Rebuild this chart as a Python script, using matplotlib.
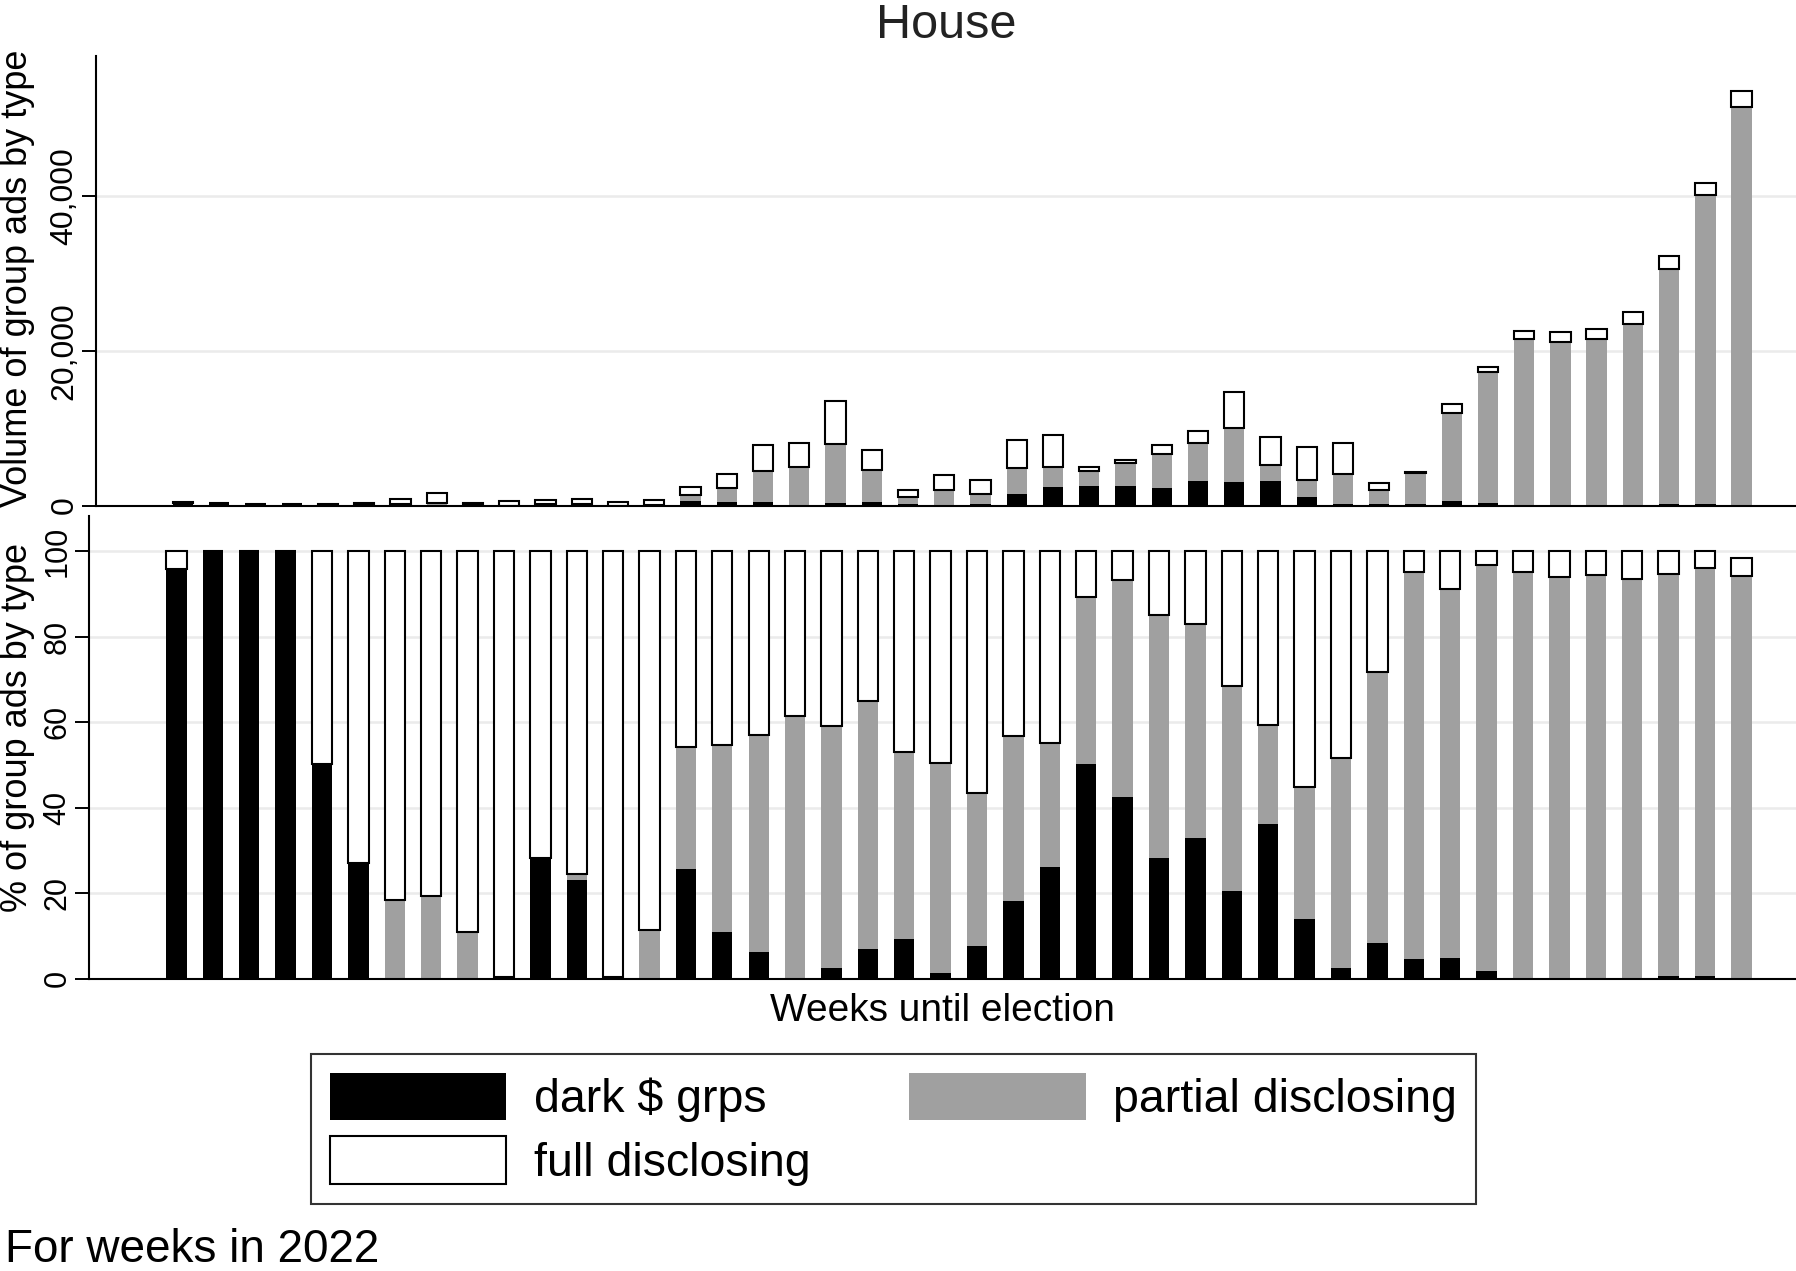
import matplotlib
matplotlib.use("Agg")
import matplotlib.pyplot as plt
from matplotlib.patches import Patch
import numpy as np

plt.rcParams["font.family"] = ["Liberation Sans", "DejaVu Sans"]

# weeks before the election, left to right (44 weekly bars)
weeks = np.arange(44)

# top panel: number of group ads per week by sponsor type
vol_dark = [385, 350, 200, 150, 100, 80, 0, 0, 0, 0,
            205, 200, 0, 0, 615, 450, 490, 20, 320, 490,
            190, 50, 255, 1550, 2390, 2520, 2490, 2200, 3190, 3020,
            3220, 1050, 190, 240, 205, 645, 300, 0, 0, 0,
            0, 190, 250, 100]
vol_partial = [0, 0, 0, 0, 0, 0, 165, 320, 30, 0,
               0, 12, 0, 87, 685, 1870, 4000, 4970, 7650, 4130,
               880, 1920, 1175, 3290, 2650, 1970, 2950, 4450, 4850, 7040,
               2050, 2310, 3950, 1830, 3965, 11365, 17030, 21500, 21100, 21550,
               23460, 30360, 39920, 51500]
vol_full = [15, 0, 0, 0, 100, 220, 735, 1350, 230, 560,
            525, 648, 430, 683, 1100, 1800, 3280, 3120, 5510, 2500,
            950, 1930, 1870, 3660, 4100, 530, 400, 1160, 1660, 4620,
            3610, 4150, 3890, 810, 210, 1170, 570, 1080, 1350, 1280,
            1600, 1680, 1590, 2090]

# bottom panel: share of group ads per week by sponsor type (%)
pct_dark = [96, 100, 100, 100, 50, 27, 0, 0, 0, 0.3,
            28, 23, 0.3, 0, 25.6, 10.9, 6.3, 0.2, 2.4, 6.9,
            9.3, 1.2, 7.7, 18.2, 26.2, 50.2, 42.6, 28.2, 32.9, 20.6,
            36.3, 14.0, 2.4, 8.3, 4.7, 4.9, 1.7, 0, 0, 0,
            0, 0.6, 0.6, 0.2]
pct_partial = [0, 0, 0, 0, 0.3, 0, 18.5, 19.3, 11, 0,
               0.3, 1.4, 0, 11.3, 28.6, 43.8, 50.8, 61.3, 56.7, 58.0,
               43.8, 49.2, 35.7, 38.7, 28.9, 39.2, 50.6, 56.9, 50.0, 47.9,
               23.1, 30.8, 49.2, 63.5, 90.5, 86.2, 95.1, 95.2, 94.0, 94.4,
               93.6, 94.2, 95.6, 94.0]
pct_full = [4, 0, 0, 0, 49.7, 73, 81.5, 80.7, 89, 99.7,
            71.7, 75.6, 99.7, 88.7, 45.8, 45.3, 42.9, 38.5, 40.9, 35.1,
            46.9, 49.6, 56.6, 43.1, 44.9, 10.6, 6.8, 14.9, 17.1, 31.5,
            40.6, 55.2, 48.4, 28.2, 4.8, 8.9, 3.2, 4.8, 6.0, 5.6,
            6.4, 5.2, 3.8, 4.2]

labels = ["dark $ grps", "partial disclosing", "full disclosing"]
c_dark, c_partial, c_full = "#000000", "#a0a0a0", "#ffffff"

W, H = 1796, 1271
fig = plt.figure(figsize=(W / 100, H / 100), dpi=100)

ax_top = fig.add_axes([96 / W, 1 - 505.5 / H, (W - 96) / W, (505.5 - 55.7) / H])
ax_bot = fig.add_axes([89 / W, 1 - 978.6 / H, (W - 89) / W, (978.6 - 516) / H])

bw = 0.56


def stacked(ax, dark, partial, full):
    dark = np.array(dark, dtype=float)
    partial = np.array(partial, dtype=float)
    full = np.array(full, dtype=float)
    ax.bar(weeks, dark, bw, color=c_dark, linewidth=0)
    ax.bar(weeks, partial, bw, bottom=dark, color=c_partial, linewidth=0)
    ax.bar(weeks, full, bw, bottom=dark + partial, color=c_full,
           edgecolor="black", linewidth=1.5)


stacked(ax_top, vol_dark, vol_partial, vol_full)
stacked(ax_bot, pct_dark, pct_partial, pct_full)

for ax in (ax_top, ax_bot):
    ax.set_xlim(-2.4, 44.5)
    ax.set_axisbelow(True)
    ax.grid(axis="y", color="#ebebeb", linewidth=1.8)
    ax.spines["top"].set_visible(False)
    ax.spines["right"].set_visible(False)
    ax.spines["left"].set_linewidth(1.5)
    ax.spines["bottom"].set_linewidth(1.5)
    ax.tick_params(axis="x", bottom=False, labelbottom=False)
    ax.tick_params(axis="y", direction="out", length=10, width=1.4, pad=2)

ax_top.tick_params(axis="y", labelsize=23)
ax_bot.tick_params(axis="y", labelsize=22)

ax_top.set_ylim(0, 58200)
ax_top.set_yticks([0, 20000, 40000])
ax_top.set_yticklabels(["0", "20,000", "40,000"], rotation=90, va="center")

ax_bot.set_ylim(0, 108.3)
ax_bot.set_yticks([0, 20, 40, 60, 80, 100])
ax_bot.set_yticklabels(["0", "20", "40", "60", "80", "100"], rotation=90, va="center")

fig.text(0, 1 - 278 / H, "Volume of group ads by type", rotation=90,
         ha="left", va="center", fontsize=26)
fig.text(0, 1 - 727 / H, "% of group ads by type", rotation=90,
         ha="left", va="center", fontsize=26)

fig.text(946 / W, 1 - 38 / H, "House", ha="center", va="baseline",
         fontsize=35, color="#222222")
fig.text(942 / W, 1 - 1021 / H, "Weeks until election", ha="center",
         va="baseline", fontsize=28)

handles = [
    Patch(facecolor=c_dark, edgecolor=c_dark, linewidth=0),
    Patch(facecolor=c_full, edgecolor="black", linewidth=1.5),
    Patch(facecolor=c_partial, edgecolor=c_partial, linewidth=0),
]
leg = fig.legend(handles, [labels[0], labels[2], labels[1]], ncol=2,
                 loc="upper center", bbox_to_anchor=(893.5 / W, 1 - 1054 / H),
                 fontsize=33.5, frameon=True, fancybox=False, edgecolor="black",
                 handlelength=3.8, handleheight=1.2, handletextpad=0.6,
                 columnspacing=2.1, borderpad=0.4, labelspacing=0.3,
                 borderaxespad=0)
leg.get_frame().set_linewidth(1.5)

fig.text(5 / W, 1 - 1262 / H, "For weeks in 2022", ha="left", va="baseline",
         fontsize=33)

fig.savefig("out.png", dpi=100)
